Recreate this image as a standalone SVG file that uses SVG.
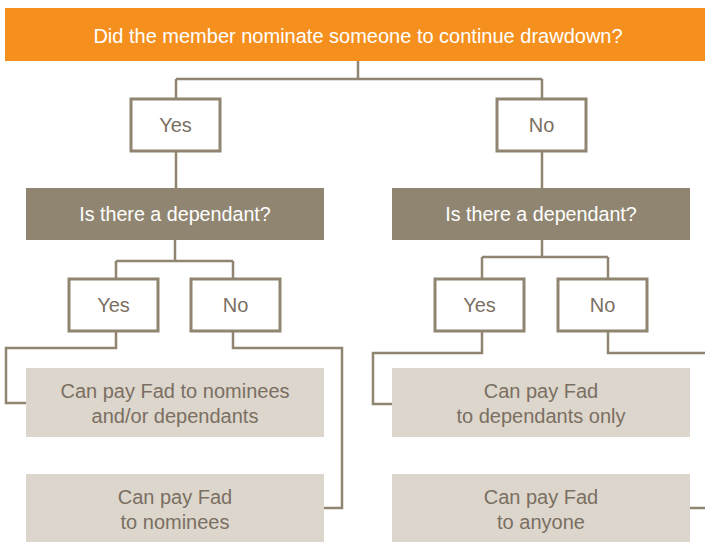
<svg xmlns="http://www.w3.org/2000/svg" width="705" height="542" viewBox="0 0 705 542">
<style>
text{font-family:"Liberation Sans",Arial,sans-serif;text-anchor:middle}
.hdr{fill:#F5901F}
.hdrt{fill:#ffffff;font-size:20px}
.q{fill:#8F8570}
.qt{fill:#ffffff;font-size:19.7px}
.ans{fill:#ffffff;stroke:#8F8570;stroke-width:3}
.anst{fill:#7A6F62;font-size:20px}
.res{fill:#DDD6CC}
.rest{fill:#7A6F62;font-size:20px}
.conn path{fill:none;stroke:#8F8570;stroke-width:2.5}
</style>
<g id="header"><rect class="hdr" x="5" y="8" width="700" height="53"/><text class="hdrt" x="358" y="43">Did the member nominate someone to continue drawdown?</text></g>
<g class="conn" id="connectors">
<path d="M358 61V79M176 79H542M176 79V98M542 79V98"/>
<path d="M176 151V188M542 151V188"/>
<path d="M175 240V261M116 261H233M116 261V278M233 261V278"/>
<path d="M542 240V257M482 257H608M482 257V278M608 257V278"/>
<path d="M116 331V348H6V403H26"/>
<path d="M233 331V348H342V508H324"/>
<path d="M482 331V353H373V404H392"/>
<path d="M608 331V353H705"/>
<path d="M690 508H705"/>
</g>
<g id="yes1"><rect class="ans" x="131" y="99" width="89" height="52"/><text class="anst" x="175.5" y="132">Yes</text></g>
<g id="no1"><rect class="ans" x="497" y="99" width="89" height="52"/><text class="anst" x="541.5" y="132">No</text></g>
<g id="dep1"><rect class="q" x="26" y="188" width="298" height="52"/><text class="qt" x="175" y="221">Is there a dependant?</text></g>
<g id="dep2"><rect class="q" x="392" y="188" width="298" height="52"/><text class="qt" x="541" y="221">Is there a dependant?</text></g>
<g id="yes2"><rect class="ans" x="69" y="279" width="89" height="52"/><text class="anst" x="113.5" y="312">Yes</text></g>
<g id="no2"><rect class="ans" x="191" y="279" width="89" height="52"/><text class="anst" x="235.5" y="312">No</text></g>
<g id="yes3"><rect class="ans" x="435" y="279" width="89" height="52"/><text class="anst" x="479.5" y="312">Yes</text></g>
<g id="no3"><rect class="ans" x="558" y="279" width="89" height="52"/><text class="anst" x="602.5" y="312">No</text></g>
<g id="res1"><rect class="res" x="26" y="368" width="298" height="69"/><text class="rest" x="175" y="398">Can pay Fad to nominees</text><text class="rest" x="175" y="423">and/or dependants</text></g>
<g id="res2"><rect class="res" x="26" y="474" width="298" height="68"/><text class="rest" x="175" y="504">Can pay Fad</text><text class="rest" x="175" y="529">to nominees</text></g>
<g id="res3"><rect class="res" x="392" y="368" width="298" height="69"/><text class="rest" x="541" y="398">Can pay Fad</text><text class="rest" x="541" y="423">to dependants only</text></g>
<g id="res4"><rect class="res" x="392" y="474" width="298" height="68"/><text class="rest" x="541" y="504">Can pay Fad</text><text class="rest" x="541" y="529">to anyone</text></g>
</svg>
